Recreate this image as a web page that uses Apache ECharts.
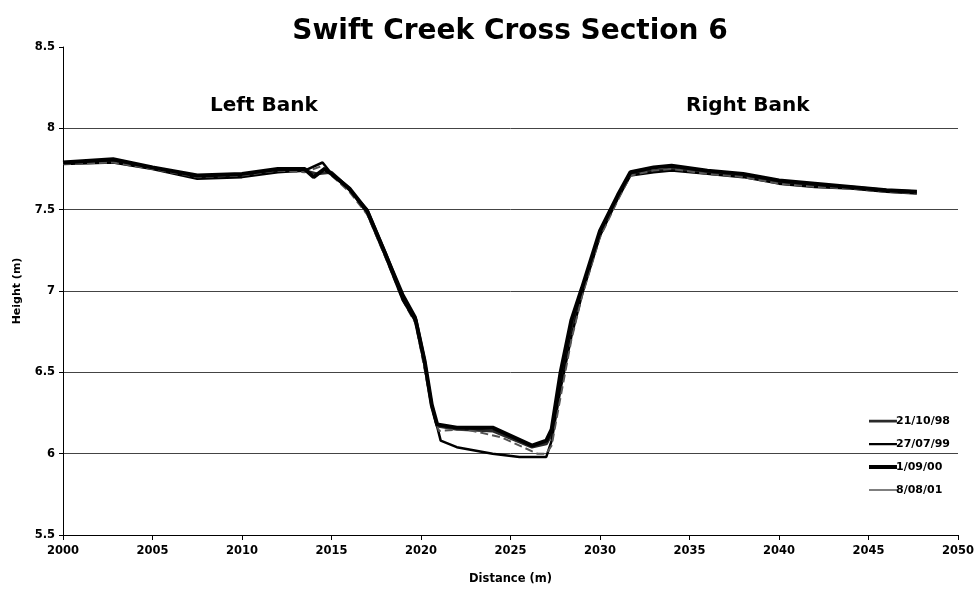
<!DOCTYPE html>
<html><head><meta charset="utf-8">
<script src="https://cdn.jsdelivr.net/npm/echarts@6/dist/echarts.min.js"></script>
<style>html,body{margin:0;padding:0;background:#fff}#c{width:977px;height:595px}</style>
</head><body><div id="c"></div>
<script>
const seriesNames = ['21/10/98', '27/07/99', '1/09/00', '8/08/01'];
const x98 = [2000, 2002.8, 2005, 2007.5, 2010, 2012, 2013.5, 2014.2, 2015, 2016, 2017, 2018, 2019, 2019.7, 2020.2, 2020.6, 2020.9, 2022, 2024, 2026.2, 2027, 2027.3, 2027.8, 2028.4, 2029, 2030, 2031, 2031.7, 2033, 2034, 2036, 2038, 2040, 2042, 2044, 2046, 2047.7];
const y98 = [7.79, 7.80, 7.76, 7.70, 7.71, 7.74, 7.74, 7.72, 7.73, 7.63, 7.48, 7.22, 6.96, 6.82, 6.55, 6.30, 6.17, 6.15, 6.14, 6.04, 6.06, 6.12, 6.45, 6.78, 7.00, 7.35, 7.58, 7.72, 7.74, 7.75, 7.73, 7.71, 7.67, 7.65, 7.64, 7.62, 7.61];
const x99 = [2000, 2002.8, 2005, 2007.5, 2010, 2012, 2013.5, 2014.5, 2015, 2016, 2017, 2018, 2019, 2019.7, 2020.2, 2020.6, 2021.1, 2022, 2024, 2025.5, 2027, 2027.3, 2027.8, 2028.4, 2029, 2030, 2031, 2031.7, 2033, 2034, 2036, 2038, 2040, 2042, 2044, 2046, 2047.7];
const y99 = [7.78, 7.79, 7.75, 7.69, 7.70, 7.73, 7.74, 7.79, 7.72, 7.62, 7.50, 7.24, 6.98, 6.84, 6.58, 6.30, 6.08, 6.04, 6.00, 5.98, 5.98, 6.08, 6.40, 6.72, 6.98, 7.34, 7.57, 7.71, 7.73, 7.74, 7.72, 7.70, 7.66, 7.64, 7.63, 7.61, 7.60];
const x00 = [2000, 2002.8, 2005, 2007.5, 2010, 2012, 2013.5, 2014, 2014.6, 2015, 2016, 2017, 2018, 2019, 2019.7, 2020.2, 2020.6, 2020.9, 2022, 2024, 2026.2, 2027, 2027.3, 2027.8, 2028.4, 2029, 2030, 2031, 2031.7, 2033, 2034, 2036, 2038, 2040, 2042, 2044, 2046, 2047.7];
const y00 = [7.79, 7.81, 7.76, 7.71, 7.72, 7.75, 7.75, 7.70, 7.75, 7.72, 7.63, 7.49, 7.23, 6.95, 6.82, 6.57, 6.30, 6.18, 6.16, 6.16, 6.05, 6.08, 6.15, 6.50, 6.82, 7.02, 7.37, 7.59, 7.73, 7.76, 7.77, 7.74, 7.72, 7.68, 7.66, 7.64, 7.62, 7.61];
const x01 = [2000, 2002.8, 2005, 2007.5, 2010, 2012, 2013.5, 2014.5, 2015, 2016, 2017, 2018, 2019, 2019.7, 2020.2, 2020.6, 2021, 2022.5, 2024.5, 2026.5, 2027, 2027.3, 2027.8, 2028.4, 2029, 2030, 2031, 2031.7, 2033, 2034, 2036, 2038, 2040, 2042, 2044, 2046, 2047.7];
const y01 = [7.78, 7.79, 7.75, 7.70, 7.71, 7.74, 7.73, 7.77, 7.71, 7.61, 7.47, 7.21, 6.94, 6.80, 6.52, 6.28, 6.14, 6.15, 6.10, 6.00, 6.00, 6.05, 6.35, 6.70, 6.97, 7.33, 7.56, 7.71, 7.74, 7.75, 7.72, 7.70, 7.66, 7.64, 7.63, 7.61, 7.60];
const xTicks = [2000, 2050, 5];
const yTicks = [5.5, 8.5, 0.5];

const allX = [x98, x99, x00, x01];
const allY = [y98, y99, y00, y01];
const styles = [
  {color: '#2a2a2a', width: 3, type: 'solid'},
  {color: '#000000', width: 2.5, type: 'solid'},
  {color: '#000000', width: 4, type: 'solid'},
  {color: '#555555', width: 2, type: 'dashed'}
];
// legend icons: horizontal bars of different thickness inside a fixed 28x12 box
const legendIcons = [
  'path://M0,0h0.01v0.01H0zM0,4.8h28v2.6H0zM28,12h0.01v0.01h-0.01z',
  'path://M0,0h0.01v0.01H0zM0,5h28v2.2H0zM28,12h0.01v0.01h-0.01z',
  'path://M0,0h0.01v0.01H0zM0,4h28v4H0zM28,12h0.01v0.01h-0.01z',
  'path://M0,0h0.01v0.01H0zM0,5.2h28v1.6H0zM28,12h0.01v0.01h-0.01z'
];
const FONT = '"DejaVu Sans", Verdana, sans-serif';

const chart = echarts.init(document.getElementById('c'), null, {renderer: 'canvas'});
chart.setOption({
  backgroundColor: '#ffffff',
  animation: false,
  title: {
    text: 'Swift Creek Cross Section 6',
    left: 505, top: 13, textAlign: 'center',
    textStyle: {fontFamily: FONT, fontWeight: 'bold', fontSize: 28, color: '#000'}
  },
  grid: {left: 63, right: 19, top: 47, bottom: 60},
  legend: {
    orient: 'vertical', left: 864, top: 410, itemGap: 11, itemWidth: 28, itemHeight: 12,
    data: seriesNames.map((n, i) => ({name: n, icon: legendIcons[i]})),
    textStyle: {fontFamily: FONT, fontSize: 11, fontWeight: 'bold', color: '#000', padding: [0, 0, 0, -6]}
  },
  xAxis: {
    type: 'value', min: xTicks[0], max: xTicks[1], interval: xTicks[2],
    name: 'Distance (m)', nameLocation: 'middle', nameGap: 38,
    nameTextStyle: {fontFamily: FONT, fontWeight: 'bold', fontSize: 11.5, color: '#000'},
    axisLine: {show: true, lineStyle: {color: '#000', width: 1}},
    axisTick: {show: true, length: 5, lineStyle: {color: '#000'}},
    axisLabel: {fontFamily: FONT, fontWeight: 'bold', fontSize: 11.5, color: '#000', margin: 10,
      formatter: v => String(v)},
    splitLine: {show: false}
  },
  yAxis: {
    type: 'value', min: yTicks[0], max: yTicks[1], interval: yTicks[2],
    name: 'Height (m)', nameLocation: 'middle', nameGap: 40, nameRotate: 90,
    nameTextStyle: {fontFamily: FONT, fontWeight: 'bold', fontSize: 11, color: '#000'},
    axisLine: {show: true, lineStyle: {color: '#000', width: 1}},
    axisTick: {show: true, length: 4, lineStyle: {color: '#000'}},
    axisLabel: {fontFamily: FONT, fontWeight: 'bold', fontSize: 11.5, color: '#000', margin: 8,
      formatter: v => String(v)},
    splitLine: {show: true, lineStyle: {color: ['#444', '#444', '#444', '#444', '#444', '#444', 'rgba(0,0,0,0)'], width: 1}}
  },
  graphic: [
    {type: 'text', left: 210, top: 96, style: {text: 'Left Bank', font: 'bold 20px ' + FONT, fill: '#000'}},
    {type: 'text', left: 686, top: 96, style: {text: 'Right Bank', font: 'bold 20px ' + FONT, fill: '#000'}}
  ],
  series: seriesNames.map((n, i) => ({
    name: n, type: 'line', symbol: 'none', z: i === 2 ? 3 : 2,
    data: allX[i].map((x, j) => [x, allY[i][j]]),
    lineStyle: styles[i], itemStyle: {color: styles[i].color}
  }))
});
</script></body></html>
